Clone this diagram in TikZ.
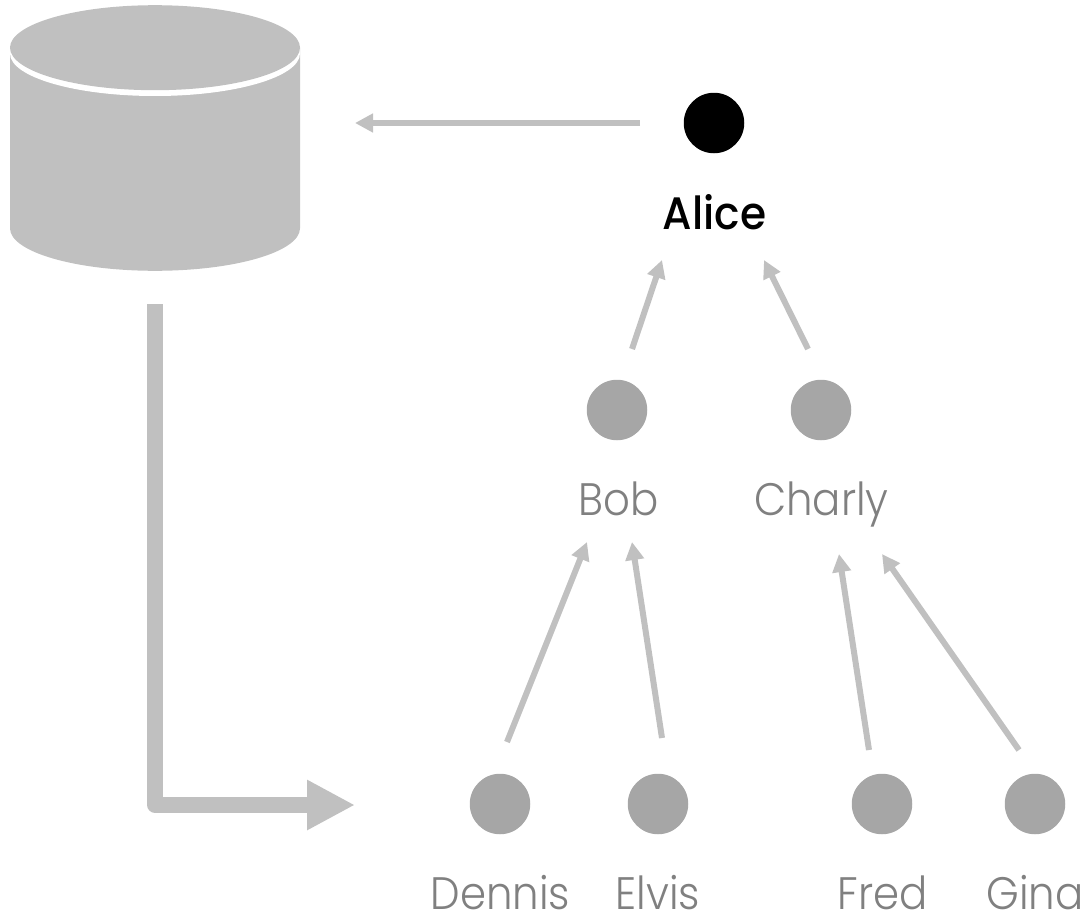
\documentclass[tikz,border=0pt]{standalone}
\usepackage{fontspec}
\setmainfont[FakeStretch=0.92]{Poppins Light}
\newfontfamily\alicefont[FakeStretch=0.93]{Poppins Medium}
\usetikzlibrary{arrows.meta}
\definecolor{lg}{HTML}{C0C0C0}
\definecolor{dotg}{HTML}{A6A6A6}
\definecolor{txtg}{HTML}{808080}
\tikzset{
  dot/.style={circle,draw=none,fill=dotg,minimum size=60.5pt,inner sep=0pt},
  topdot/.style={dot,fill=black},
  lbl/.style={text=txtg,font=\fontsize{45.5}{50}\selectfont,inner sep=0pt,anchor=base},
  toplbl/.style={text=black,font=\alicefont\fontsize{45.5}{50}\selectfont,inner sep=0pt,anchor=base},
  thin arrow/.style={draw=lg,line width=6pt,-{Triangle[length=18pt,width=18pt]}},
  flow arrow/.style={draw=lg,line width=15.5pt,line join=round,-{Triangle[length=48pt,width=47pt]}}
}
\begin{document}
\begin{tikzpicture}[x=1pt,y=-1pt]
\useasboundingbox (0,0) rectangle (1088,918);
\fill[lg] (10,47.7) -- (10,228.3) arc[start angle=180,end angle=0,x radius=145,y radius=42.5] -- (300,47.7) -- cycle;
\fill[white] (10,47.7) -- (10,53.5) arc[start angle=180,end angle=0,x radius=145,y radius=42.5] -- (300,47.7) -- cycle;
\fill[lg] (155,47.7) ellipse[x radius=145,y radius=42.5];
\node[topdot] (alice) at (714,123) {};
\node[toplbl] (alicel) at (714.5,229) {Alice};
\node[dot] (bob) at (617,410) {};
\node[lbl] (bobl) at (618.5,515) {Bob};
\node[dot] (charly) at (821,410) {};
\node[lbl] (charlyl) at (821.5,515) {Charly};
\node[dot] (dennis) at (500,804) {};
\node[lbl] (dennisl) at (500.5,909) {Dennis};
\node[dot] (elvis) at (658,804) {};
\node[lbl] (elvisl) at (658,909) {Elvis};
\node[dot] (fred) at (882,804) {};
\node[lbl] (fredl) at (882.5,909) {Fred};
\node[dot] (gina) at (1035,804) {};
\node[lbl] (ginal) at (1035,909) {Gina};
\coordinate (dbin) at (355,123);
\coordinate (aout) at (640,123);
\coordinate (ain1) at (662,260);
\coordinate (ain2) at (764,260);
\coordinate (bout) at (632,349);
\coordinate (cout) at (808,349);
\coordinate (bin1) at (587,542);
\coordinate (bin2) at (632,542);
\coordinate (cin1) at (839,554);
\coordinate (cin2) at (882,554);
\coordinate (dout) at (507,742);
\coordinate (eout) at (662,738);
\coordinate (fout) at (869,750);
\coordinate (gout) at (1019,750);
\coordinate (dbout) at (155,304);
\coordinate (flowend) at (355,805);
\draw[thin arrow] (aout) -- (dbin);
\draw[thin arrow] (bout) -- (ain1);
\draw[thin arrow] (cout) -- (ain2);
\draw[thin arrow] (dout) -- (bin1);
\draw[thin arrow] (eout) -- (bin2);
\draw[thin arrow] (fout) -- (cin1);
\draw[thin arrow] (gout) -- (cin2);
\draw[flow arrow] (dbout) |- (flowend);
\end{tikzpicture}
\end{document}
